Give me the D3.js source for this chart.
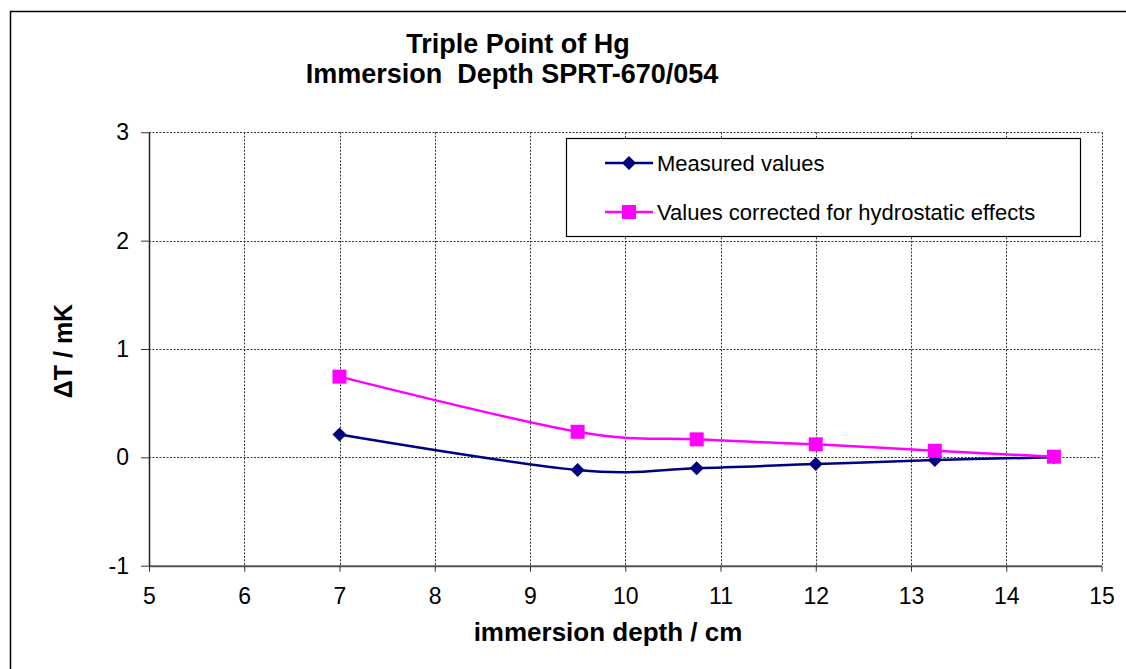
<!DOCTYPE html>
<html>
<head>
<meta charset="utf-8">
<script src="https://cdn.jsdelivr.net/npm/d3@7"></script>
<style>
  html, body { margin: 0; padding: 0; background: #fff; }
  svg { display: block; font-family: "Liberation Sans", Arial, sans-serif; }
</style>
</head>
<body>
<svg id="chart" width="1126" height="669"></svg>
<script>
// Immersion depth (cm) of the SPRT in the Hg triple point cell
const depths = [7, 9.5, 10.75, 12, 13.25, 14.5];
// Temperature deviation (mK) relative to full immersion
const measured = [0.21, -0.117, -0.10, -0.062, -0.025, 0.0];
const corrected = [0.745, 0.236, 0.166, 0.12, 0.061, 0.006];
const xTicks = [5, 6, 7, 8, 9, 10, 11, 12, 13, 14, 15];
const yTicks = [-1, 0, 1, 2, 3];
const titleLines = ["Triple Point of Hg", "Immersion  Depth SPRT-670/054"];
const seriesNames = ["Measured values", "Values corrected for hydrostatic effects"];

const svg = d3.select("#chart");
const W = 1126, H = 669;

// outer chart frame
svg.append("rect")
  .attr("x", 10.5).attr("y", 11.5)
  .attr("width", W + 20).attr("height", H + 20)
  .attr("fill", "#fff").attr("stroke", "#000").attr("stroke-width", 1.5);

const plot = { left: 149, right: 1101.5, top: 132.3, bottom: 565.7 };

const x = d3.scaleLinear().domain([5, 15]).range([plot.left, plot.right]);
const y = d3.scaleLinear().domain([-1, 3]).range([plot.bottom, plot.top]);

// dashed grid
const grid = svg.append("g").attr("stroke", "#333").attr("stroke-width", 1)
  .attr("stroke-dasharray", "2,1.5").attr("fill", "none");
grid.selectAll("line.v").data(xTicks.filter(d => d > 5)).join("line")
  .attr("x1", d => Math.round(x(d)) + 0.5).attr("x2", d => Math.round(x(d)) + 0.5)
  .attr("y1", plot.top).attr("y2", plot.bottom);
grid.selectAll("line.h").data(yTicks.filter(d => d > -1)).join("line")
  .attr("x1", plot.left).attr("x2", plot.right)
  .attr("y1", d => Math.round(y(d)) + 0.5).attr("y2", d => Math.round(y(d)) + 0.5);

// axes
const fmt = d => String(d);
const xAxis = d3.axisBottom(x).tickValues(xTicks).tickFormat(fmt)
  .tickSize(6).tickSizeOuter(0).tickPadding(16);
const yAxis = d3.axisLeft(y).tickValues(yTicks).tickFormat(fmt)
  .tickSize(8).tickSizeOuter(0).tickPadding(12);

const gx = svg.append("g").attr("transform", `translate(0,${plot.bottom})`).call(xAxis);
gx.select(".domain").attr("stroke", "#555").attr("stroke-width", 2);
gx.selectAll(".tick line").attr("stroke", "#333").attr("stroke-width", 1);
gx.selectAll(".tick text").attr("font-size", 23).attr("fill", "#000")
  .attr("font-family", "Liberation Sans, Arial, sans-serif");

const gy = svg.append("g").attr("transform", `translate(${plot.left},0)`).call(yAxis);
gy.select(".domain").attr("stroke", "#222").attr("stroke-width", 1.5);
gy.selectAll(".tick line").attr("stroke", "#333").attr("stroke-width", 1);
gy.selectAll(".tick text").attr("font-size", 23).attr("fill", "#000")
  .attr("font-family", "Liberation Sans, Arial, sans-serif");

// titles
const title = svg.append("text").attr("text-anchor", "middle")
  .attr("font-weight", "bold").attr("font-size", 27).attr("fill", "#000")
  .attr("style", "white-space: pre");
title.append("tspan").attr("x", 518).attr("y", 53).text(titleLines[0]);
title.append("tspan").attr("x", 512).attr("y", 83).text(titleLines[1]);

svg.append("text").attr("x", 608).attr("y", 641)
  .attr("text-anchor", "middle").attr("font-weight", "bold").attr("font-size", 26)
  .text("immersion depth / cm");

svg.append("text").attr("transform", `translate(72,351) rotate(-90)`)
  .attr("text-anchor", "middle").attr("font-weight", "bold").attr("font-size", 25)
  .text("\u0394T / mK");

// smoothed series lines
const line = d3.line().x(d => x(d[0])).y(d => y(d[1])).curve(d3.curveCardinal.tension(0));
const measuredPts = depths.map((d, i) => [d, measured[i]]);
const correctedPts = depths.map((d, i) => [d, corrected[i]]);

const navy = "#000080", magenta = "#FF00FF";

svg.append("path").datum(measuredPts).attr("d", line)
  .attr("fill", "none").attr("stroke", navy).attr("stroke-width", 2.5);
svg.selectAll("path.dia").data(measuredPts).join("path").attr("class", "dia")
  .attr("transform", d => `translate(${x(d[0])},${y(d[1])})`)
  .attr("d", "M0,-7L7,0L0,7L-7,0Z").attr("fill", navy);

svg.append("path").datum(correctedPts).attr("d", line)
  .attr("fill", "none").attr("stroke", magenta).attr("stroke-width", 2.5);
svg.selectAll("rect.sq").data(correctedPts).join("rect").attr("class", "sq")
  .attr("x", d => x(d[0]) - 7).attr("y", d => y(d[1]) - 7)
  .attr("width", 14).attr("height", 14).attr("fill", magenta);

// legend
const lg = svg.append("g");
lg.append("rect").attr("x", 566.5).attr("y", 138.5).attr("width", 514).attr("height", 98)
  .attr("fill", "#fff").attr("stroke", "#000").attr("stroke-width", 1.2);
const items = [
  { name: seriesNames[0], color: navy, shape: "dia", yy: 163 },
  { name: seriesNames[1], color: magenta, shape: "sq", yy: 212 }
];
items.forEach(it => {
  lg.append("line").attr("x1", 605).attr("x2", 653).attr("y1", it.yy).attr("y2", it.yy)
    .attr("stroke", it.color).attr("stroke-width", 2.5);
  if (it.shape === "dia") {
    lg.append("path").attr("transform", `translate(629,${it.yy})`)
      .attr("d", "M0,-7L7,0L0,7L-7,0Z").attr("fill", it.color);
  } else {
    lg.append("rect").attr("x", 622).attr("y", it.yy - 7).attr("width", 14).attr("height", 14)
      .attr("fill", it.color);
  }
  lg.append("text").attr("x", 657).attr("y", it.yy + 8).attr("font-size", 22)
    .attr("fill", "#000").text(it.name);
});
</script>
</body>
</html>
